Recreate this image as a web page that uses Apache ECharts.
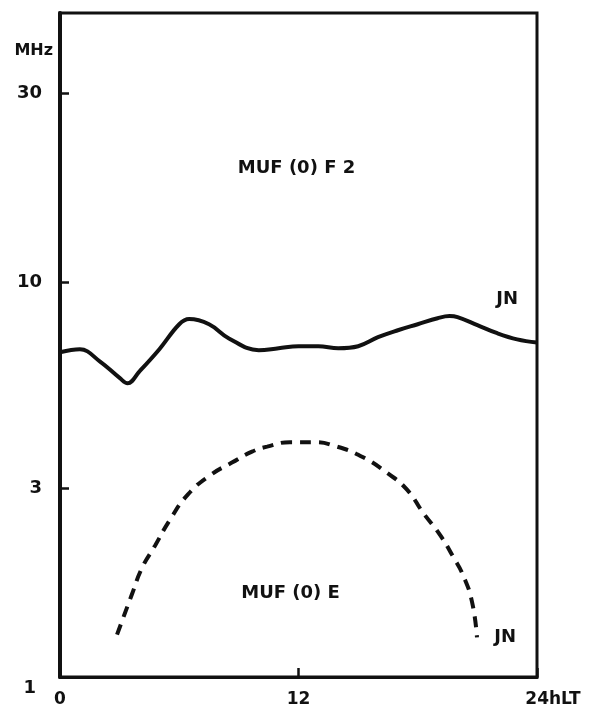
<!DOCTYPE html>
<html>
<head>
<meta charset="utf-8">
<script src="https://cdn.jsdelivr.net/npm/echarts@6/dist/echarts.min.js"></script>
<style>
  html, body { margin: 0; padding: 0; background: #fff; }
  #muf-chart { width: 594px; height: 716px; }
</style>
</head>
<body>
<div id="muf-chart"></div>
<script>
// hours of local time and MUF values (MHz)
var hoursF2 = [0, 1, 2, 3, 3.4, 4, 5, 6, 6.5, 7.5, 8.5, 10, 11, 12, 13, 14, 15, 16, 17, 18, 19, 19.6, 20, 21, 22, 23, 24];
var mufF2 = [6.64, 6.76, 6.3, 5.72, 5.54, 5.94, 6.76, 7.82, 8.06, 7.82, 7.2, 6.72, 6.8, 6.88, 6.88, 6.8, 6.88, 7.25, 7.55, 7.82, 8.1, 8.2, 8.15, 7.78, 7.42, 7.16, 7.03];

var hoursE = [2.87, 3.62, 4.13, 4.78, 5.53, 6.44, 7.55, 8.65, 9.66, 10.42, 11.57, 12.73, 13.94, 15.25, 16.45, 17.46, 18.26, 19.12, 19.77, 20.28, 20.73, 20.98];
var mufE = [1.28, 1.62, 1.89, 2.15, 2.5, 2.9, 3.24, 3.49, 3.72, 3.83, 3.93, 3.93, 3.83, 3.6, 3.29, 2.98, 2.61, 2.29, 2.02, 1.81, 1.55, 1.26];

var yTicks = [1, 3, 10, 30];

// texts placed in data coordinates [hour, MHz, text]
var notes = [
	[11.9, 19.4, 'MUF (0) F 2'],
	[22.5, 9.06, 'JN'],
	[11.6, 1.63, 'MUF (0) E'],
	[22.4, 1.26, 'JN']
];

var ink = '#111';
var font = 'DejaVu Sans';

function pairs(xs, ys) {
	var out = [];
	for (var i = 0; i < xs.length; i++) {
		out.push([xs[i], ys[i]]);
	}
	return out;
}

var option = {
	animation: false,
	backgroundColor: '#fff',
	grid: {
		left: 60, right: 57, top: 13, bottom: 39,
		show: true,
		borderColor: ink,
		borderWidth: 3
	},
	xAxis: {
		type: 'value',
		min: 0, max: 24, interval: 12,
		axisLine: { lineStyle: { color: ink, width: 3 } },
		axisTick: { inside: true, length: 9, lineStyle: { color: ink, width: 2.5 } },
		splitLine: { show: false },
		axisLabel: {
			margin: 14,
			color: ink,
			fontFamily: font,
			fontWeight: 'bold',
			fontSize: 17,
			formatter: function (v) {
				return v === 24 ? '{far|24hLT}' : String(v);
			},
			rich: {
				far: { padding: [0, 0, 0, 32], color: ink, fontFamily: font, fontWeight: 'bold', fontSize: 17 }
			}
		}
	},
	yAxis: {
		type: 'log',
		logBase: 10,
		min: 1, max: 48,
		name: 'MHz',
		nameLocation: 'end',
		nameGap: -46,
		nameTextStyle: {
			color: ink, fontFamily: font, fontWeight: 'bold', fontSize: 16,
			align: 'right', padding: [0, 7, 0, 0]
		},
		axisLine: { show: true, lineStyle: { color: ink, width: 4 } },
		axisTick: { inside: true, length: 9, customValues: yTicks, lineStyle: { color: ink, width: 2.5 } },
		splitLine: { show: false },
		minorTick: { show: false },
		axisLabel: {
			customValues: yTicks,
			margin: 18,
			color: ink,
			fontFamily: font,
			fontWeight: 'bold',
			fontSize: 18,
			formatter: function (v) {
				return v === 1 ? '{low|1}' : String(v);
			},
			rich: {
				low: { padding: [22, 6, 0, 0], color: ink, fontFamily: font, fontWeight: 'bold', fontSize: 18 }
			}
		}
	},
	series: [
		{
			name: 'MUF(0)F2',
			type: 'line',
			smooth: 0.4,
			showSymbol: false,
			data: pairs(hoursF2, mufF2),
			lineStyle: { color: ink, width: 4 }
		},
		{
			name: 'MUF(0)E',
			type: 'line',
			smooth: 0.5,
			showSymbol: false,
			data: pairs(hoursE, mufE),
			lineStyle: { color: ink, width: 4, type: [11, 8] }
		},
		{
			name: 'notes',
			type: 'scatter',
			symbolSize: 0,
			silent: true,
			itemStyle: { opacity: 1 },
			data: notes.map(function (n) { return { value: [n[0], n[1]], name: n[2] }; }),
			label: {
				show: true,
				position: 'inside',
				formatter: function (p) { return p.name; },
				color: ink,
				opacity: 1,
				fontFamily: font,
				fontWeight: 'bold',
				fontSize: 18
			}
		}
	]
};

var chart = echarts.init(document.getElementById('muf-chart'));
chart.setOption(option);
</script>
</body>
</html>
